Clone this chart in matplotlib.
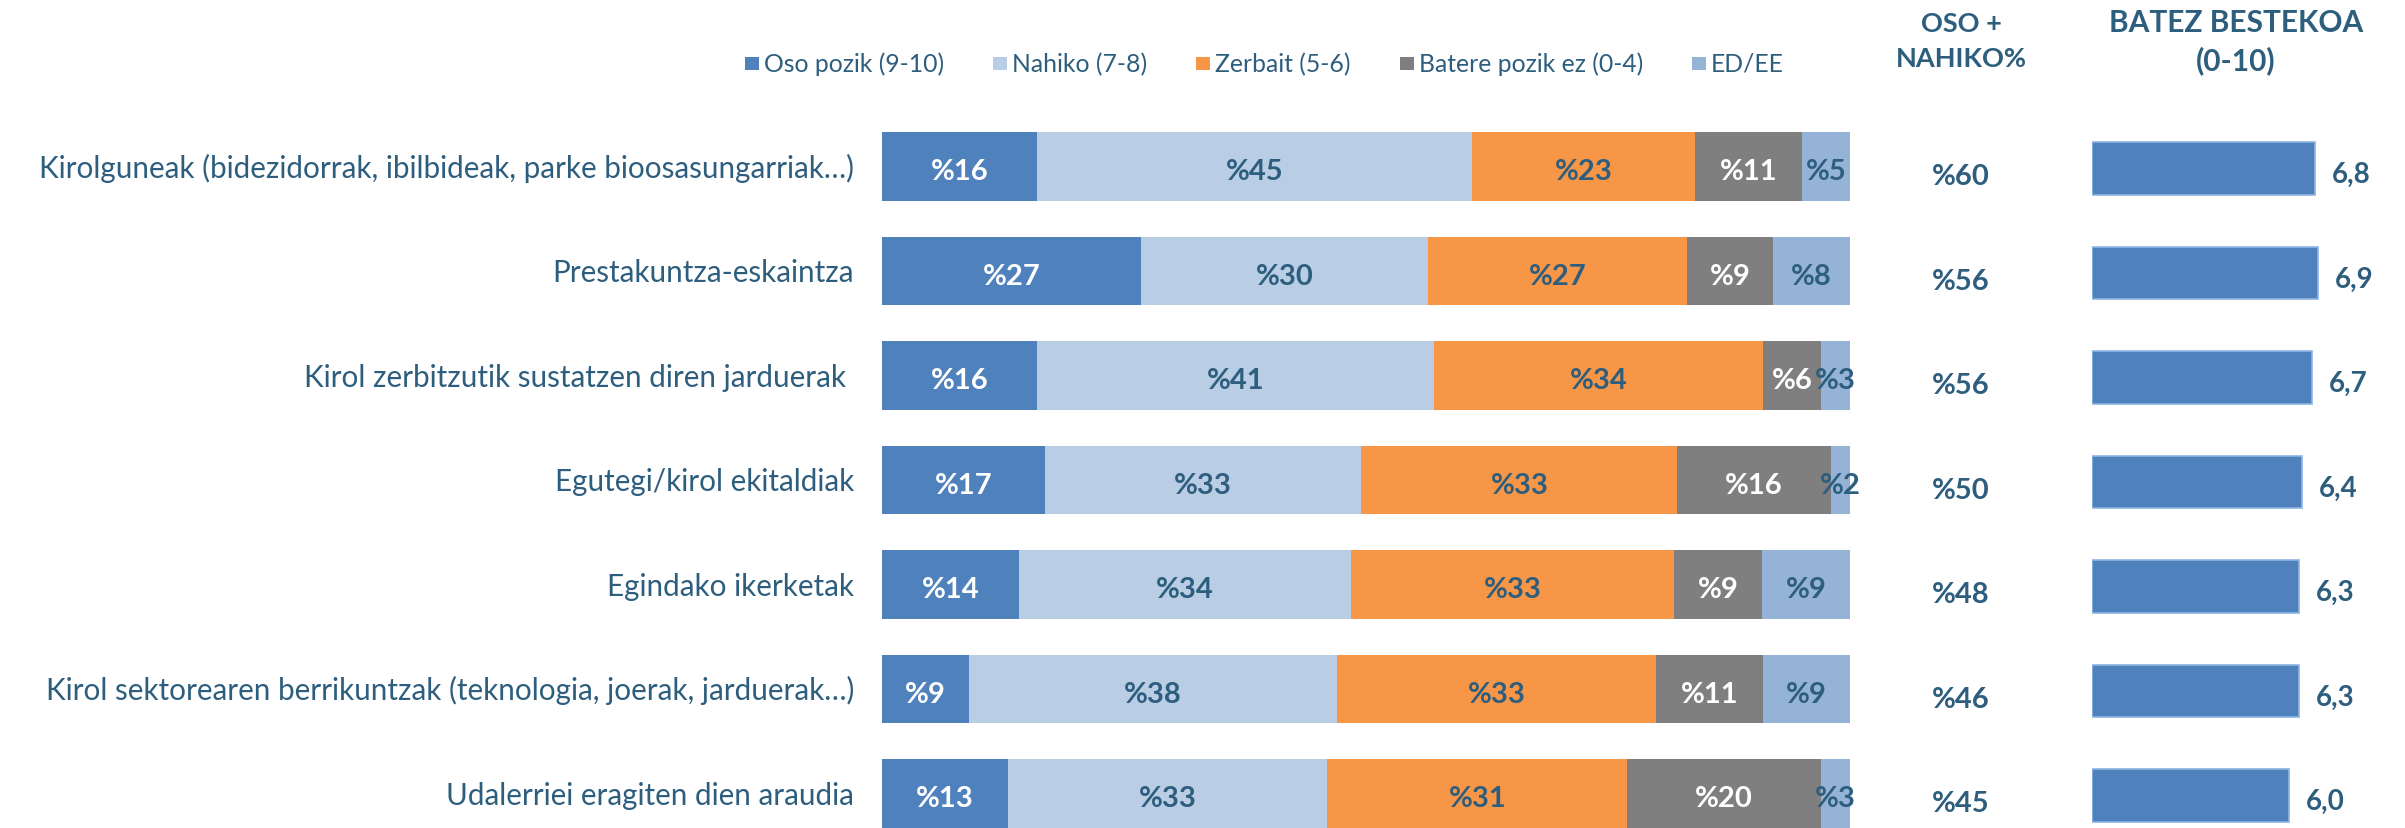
import matplotlib
matplotlib.use('Agg')
import matplotlib.pyplot as plt
import numpy as np
from matplotlib.patches import Rectangle
from matplotlib.transforms import Bbox, TransformedBbox, blended_transform_factory

# ---------------- data ----------------
categories = [
    "Kirolguneak (bidezidorrak, ibilbideak, parke bioosasungarriak…)",
    "Prestakuntza-eskaintza",
    "Kirol zerbitzutik sustatzen diren jarduerak ",
    "Egutegi/kirol ekitaldiak",
    "Egindako ikerketak",
    "Kirol sektorearen berrikuntzak (teknologia, joerak, jarduerak…)",
    "Udalerriei eragiten dien araudia",
]
series_names = ["Oso pozik (9-10)", "Nahiko (7-8)", "Zerbait (5-6)",
                "Batere pozik ez (0-4)", "ED/EE"]
oso_pozik = [16, 27, 16, 17, 14, 9, 13]
nahiko = [45, 30, 41, 33, 34, 38, 33]
zerbait = [23, 27, 34, 33, 33, 33, 31]
batere = [11, 9, 6, 16, 9, 11, 20]
ed_ee = [5, 8, 3, 2, 9, 9, 3]
oso_nahiko = [60, 56, 56, 50, 48, 46, 45]
batez_bestekoa = [6.8, 6.9, 6.7, 6.4, 6.3, 6.3, 6.0]

header_oso = ["OSO +", "NAHIKO%"]
header_batez = ["BATEZ BESTEKOA", "(0-10)"]

# ---------------- style ----------------
colors = ["#4F81BD", "#B9CDE5", "#F79646", "#7F7F7F", "#95B3D7"]
label_colors = ["white", "#2E5E7E", "#2E5E7E", "white", "#2E5E7E"]
TXT = "#2E5E7E"
REG = "Lato"
BOLD = "Lato"

W, H = 2405, 829
DPI = 100
fig = plt.figure(figsize=(W / DPI, H / DPI), dpi=DPI)
fig.patch.set_facecolor("white")

row0, step = 167.5, 104.5
n = len(categories)
top_px = row0 - step / 2
bot_px = row0 + (n - 1) * step + step / 2
ax_bottom = 1 - bot_px / H
ax_height = (bot_px - top_px) / H

# main stacked bar axes
ax = fig.add_axes([882 / W, ax_bottom, 968 / W, ax_height])
ax.set_xlim(0, 100)
ax.set_ylim(n - 0.5, -0.5)
ax.axis("off")

series = [oso_pozik, nahiko, zerbait, batere, ed_ee]
data = np.array(series, dtype=float)
totals = data.sum(axis=0)
shares = data / totals * 100
y = np.arange(n)
lefts = np.zeros(n)
clipbox = TransformedBbox(Bbox([[0, 0], [1861 / W, 1]]), fig.transFigure)
for k, (vals, c, lc) in enumerate(zip(shares, colors, label_colors)):
    ax.barh(y, vals, left=lefts, height=0.66, color=c, linewidth=0)
    for i in range(n):
        t = ax.text(lefts[i] + vals[i] / 2, y[i] + 0.12, f"%{series[k][i]}",
                    ha="center", va="baseline", color=lc, fontsize=21,
                    fontweight="bold", family=BOLD)
        t.set_clip_path(None)
        t.set_clip_box(clipbox)
        t.set_clip_on(True)
    lefts = lefts + vals

# category labels
tr_lab = blended_transform_factory(fig.transFigure, ax.transData)
for i, cat in enumerate(categories):
    ax.text(854 / W, i + 0.1, cat, transform=tr_lab, ha="right", va="baseline",
            color=TXT, fontsize=21.3, family=REG, clip_on=False)

# OSO + NAHIKO column
for i, v in enumerate(oso_nahiko):
    ax.text(1961 / W, i + 0.17, f"%{v}", transform=tr_lab, ha="center",
            va="baseline", color=TXT, fontsize=21, fontweight="bold",
            family=BOLD, clip_on=False)

# mean bars axes
ax2 = fig.add_axes([2092 / W, ax_bottom, (W - 2092) / W, ax_height])
px_per_unit = 32.8
ax2.set_xlim(0, (W - 2092) / px_per_unit)
ax2.set_ylim(n - 0.5, -0.5)
ax2.axis("off")
ax2.barh(y + 0.02, batez_bestekoa, height=0.5, color="#4F81BD",
         edgecolor="#8EB4E3", linewidth=1.2)
for i, v in enumerate(batez_bestekoa):
    ax2.text(v + 17 / px_per_unit, i + 0.15, f"{v:.1f}".replace(".", ","),
             ha="left", va="baseline", color=TXT, fontsize=20,
             fontweight="bold", family=BOLD, clip_on=False)

# headers
fig.text(1961 / W, 1 - 32 / H, header_oso[0], ha="center", va="baseline",
         color=TXT, fontsize=19.5, fontweight="bold", family=BOLD)
fig.text(1961 / W, 1 - 67 / H, header_oso[1], ha="center", va="baseline",
         color=TXT, fontsize=19.5, fontweight="bold", family=BOLD)
fig.text(2236 / W, 1 - 32 / H, header_batez[0], ha="center", va="baseline",
         color=TXT, fontsize=21.5, fontweight="bold", family=BOLD)
fig.text(2236 / W, 1 - 70 / H, header_batez[1], ha="center", va="baseline",
         color=TXT, fontsize=21.5, fontweight="bold", family=BOLD)

# legend (laid out left to right)
renderer = fig.canvas.get_renderer()
x = 745.0
for name, c in zip(series_names, colors):
    fig.add_artist(Rectangle((x / W, 1 - 71 / H), 14 / W, 13 / H,
                             transform=fig.transFigure, color=c, lw=0))
    t = fig.text((x + 19) / W, 1 - 72 / H, name, ha="left", va="baseline",
                 color=TXT, fontsize=17.8, family=REG)
    bb = t.get_window_extent(renderer)
    x = bb.x1 + 49

fig.savefig("out.png", dpi=DPI, facecolor="white")
